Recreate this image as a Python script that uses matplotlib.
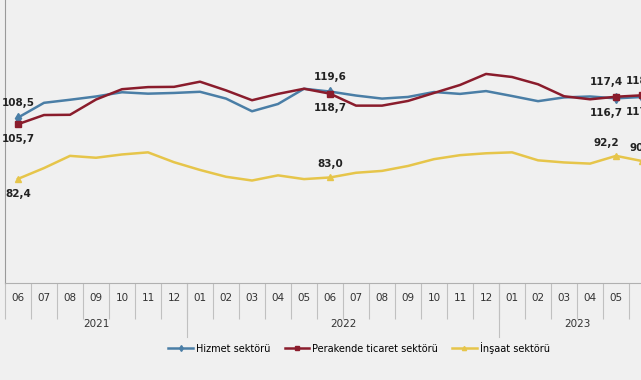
import matplotlib
matplotlib.use("Agg")
import matplotlib.pyplot as plt
import matplotlib.transforms as mtransforms

months = ["06", "07", "08", "09", "10", "11", "12",
          "01", "02", "03", "04", "05", "06", "07", "08", "09", "10", "11", "12",
          "01", "02", "03", "04", "05", "06"]
years = ["2021", "2022", "2023"]
year_of_month = [2021] * 7 + [2022] * 12 + [2023] * 6

hizmet = [108.5, 114.8, 116.1, 117.5, 119.3, 118.7, 119.0, 119.5, 116.6, 111.2, 114.3, 120.8,
          119.6, 117.9, 116.6, 117.3, 119.4, 118.6, 119.8, 117.7, 115.5, 117.1, 117.5, 116.7, 117.3]
perakende = [105.7, 109.6, 109.7, 116.2, 120.6, 121.5, 121.6, 123.8, 120.1, 115.9, 118.6, 120.8,
             118.7, 113.6, 113.6, 115.6, 119.0, 122.4, 127.1, 125.8, 122.7, 117.6, 116.3, 117.4, 118.0]
insaat = [82.4, 87.0, 92.2, 91.4, 92.8, 93.7, 89.5, 86.2, 83.3, 81.7, 83.9, 82.3,
          83.0, 85.0, 85.8, 87.9, 90.8, 92.5, 93.3, 93.7, 90.3, 89.4, 88.9, 92.2, 90.0]

labels = ["Hizmet sektörü", "Perakende ticaret sektörü", "İnşaat sektörü"]
colors = ["#4a7ea6", "#8a1c2c", "#e6c54a"]
markers = ["d", "s", "^"]
annot_idx = [0, 12, 23, 24]

bg = "#f0f0f0"
fig = plt.figure(figsize=(6.41, 3.80), dpi=100, facecolor=bg)
ax = fig.add_axes([5 / 641, 0.255, 636 / 641, 0.745], facecolor=bg)

x = list(range(len(months)))
series = [hizmet, perakende, insaat]
for s, c, m, lab in zip(series, colors, markers, labels):
    ax.plot(x, s, color=c, lw=1.8, label=lab, marker=m, markersize=5,
            markevery=annot_idx, solid_joinstyle="round", clip_on=False)

def fmt(v):
    return f"{v:.1f}".replace(".", ",")

for i in annot_idx:
    dx = -7 if i == 23 else 0
    hi, pe = hizmet[i], perakende[i]
    top, bot = (hi, pe) if hi >= pe else (pe, hi)
    kw = dict(textcoords="offset points", ha="center", fontsize=7.5, color="#222222",
              fontweight="bold", annotation_clip=False)
    ax.annotate(fmt(top), (i, top), xytext=(dx, 7), va="bottom", **kw)
    ax.annotate(fmt(bot), (i, bot), xytext=(dx, -7), va="top", **kw)
    off, va = ((-7, "top") if i == 0 else (6, "bottom"))
    ax.annotate(fmt(insaat[i]), (i, insaat[i]), xytext=(dx, off), va=va, **kw)

for sp in ["top", "right"]:
    ax.spines[sp].set_visible(False)
ax.spines["left"].set_color("#9a9a9a")
ax.spines["bottom"].set_color("#b0b0b0")
ax.set_yticks([])

ax.set_xticks([i - 0.5 for i in range(len(months) + 1)])
ax.set_xticklabels([])
ax.tick_params(axis="x", which="major", length=26, color="#c0c0c0", width=0.8)
ax.set_xticks(x, minor=True)
ax.set_xticklabels(months, minor=True, fontsize=7.5, color="#333333")
ax.tick_params(axis="x", which="minor", length=0, pad=7)

ax.set_xlim(-0.5, len(months) - 1 - 0.04)
ax.set_ylim(38, 158.6)

trans = mtransforms.blended_transform_factory(ax.transData, ax.transAxes)
bounds = [0]
for i in range(1, len(year_of_month)):
    if year_of_month[i] != year_of_month[i - 1]:
        bounds.append(i)
bounds.append(len(year_of_month))
for k, yr in enumerate(years):
    a, b = bounds[k], bounds[k + 1]
    if k > 0:
        ax.plot([a - 0.5, a - 0.5], [0, -0.19], transform=trans, color="#c0c0c0",
                lw=0.8, clip_on=False)
    ax.text((a + b - 1) / 2, -0.145, yr, transform=trans, ha="center", va="center",
            fontsize=7.5, color="#333333")

fig.legend(loc="center", bbox_to_anchor=(0.56, 0.085), ncol=3, frameon=False,
           fontsize=7, handlelength=2.5, handletextpad=0.3, columnspacing=1.5,
           markerscale=0.6)

fig.savefig("out.png", dpi=100, facecolor=bg)
